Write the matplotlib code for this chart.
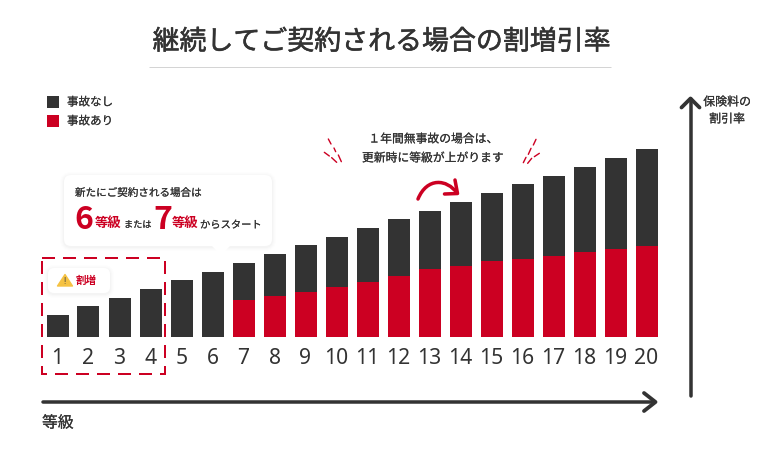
import matplotlib
matplotlib.use("Agg")
import matplotlib.pyplot as plt
import matplotlib.patheffects as pe
from matplotlib.patches import FancyBboxPatch, Polygon, Rectangle, PathPatch
from matplotlib.path import Path

plt.rcParams['font.family'] = ['Noto Sans CJK JP', 'DejaVu Sans']

grades = list(range(1, 21))
total_height = [22, 31, 39.5, 48, 57, 65.5, 74, 83, 92, 100, 109, 118, 126.5, 135, 144, 153, 161, 170, 179, 188]
accident_height = [0, 0, 0, 0, 0, 0, 37, 41, 45.5, 50, 55, 61.5, 68, 71.5, 76, 78.5, 81.5, 85, 88, 91]
no_accident_height = [t - a for t, a in zip(total_height, accident_height)]

legend_labels = ["事故なし", "事故あり"]
title = "継続してご契約される場合の割増引率"

DARK = "#333333"
RED = "#CC0022"
W, H = 760, 458

fig = plt.figure(figsize=(W / 100, H / 100), dpi=100, facecolor="white")

# chart axes: one x unit = 31 px, one y unit = 1 px, baseline at y = 337 px
ax = fig.add_axes([0, 0, 1, 1], zorder=2)
ax.set_xlim(1 - 57.5 / 31, 1 + (W - 57.5) / 31)
ax.set_ylim(-(H - 337), 337)
ax.axis("off")
ax.patch.set_alpha(0)
ax.bar(grades, accident_height, width=22 / 31, color=RED, zorder=3)
ax.bar(grades, no_accident_height, width=22 / 31, bottom=accident_height, color=DARK, zorder=3)
for g in grades:
    ax.text(g, -21.5, str(g), ha="center", va="center", fontsize=15.2, color=DARK,
            family="Noto Sans", zorder=4)

# pixel overlay for annotations
ov = fig.add_axes([0, 0, 1, 1], zorder=3)
ov.set_xlim(0, W)
ov.set_ylim(H, 0)
ov.axis("off")
ov.patch.set_alpha(0)


def px(v):
    return v * 0.72


def label(x, y, s, size, color=DARK, ha="left", bold=False, stroke=0.12, **kw):
    t = ov.text(x, y, s, ha=ha, va="center", fontsize=size, color=color,
                weight="bold" if bold else "normal", zorder=5, **kw)
    if stroke:
        t.set_path_effects([pe.withStroke(linewidth=stroke, foreground=color)])
    return t


def card(x0, y0, x1, y1, r, tail=None):
    for grow, alpha in ((4, .006), (3, .008), (2, .011), (1, .014)):
        ov.add_patch(FancyBboxPatch((x0 - grow, y0 - grow + 1), x1 - x0 + 2 * grow, y1 - y0 + 2 * grow,
                                    boxstyle=f"round,pad=0,rounding_size={r + grow}",
                                    fc="black", ec="none", alpha=alpha, zorder=1))
    ov.add_patch(FancyBboxPatch((x0, y0), x1 - x0, y1 - y0, boxstyle=f"round,pad=0,rounding_size={r}",
                                fc="white", ec="none", zorder=2))
    if tail:
        ov.add_patch(Polygon(tail, closed=True, fc="white", ec="none", zorder=2))


def line(xs, ys, color=DARK, lw=3.5, z=5, cap="round"):
    ov.plot(xs, ys, color=color, lw=px(lw), solid_capstyle=cap, solid_joinstyle="round", zorder=z)


# title
label(381, 42, title, 19.4, ha="center", stroke=0.4)
line([149, 611], [67, 67], color="#d4d4d4", lw=1, cap="butt")

# legend
for y, c, lab in zip((102, 121), (DARK, RED), legend_labels):
    ov.add_patch(Rectangle((47, y - 6), 12, 12, fc=c, ec="none", zorder=4))
    label(67, y, lab, 8.3)

# callout
card(64, 175, 272, 246, 7, tail=[(211, 245), (231, 245), (221, 255)])
label(75, 193, "新たにご契約される場合は", 7.6)
label(74, 220, "6", 23, color=RED, bold=True, stroke=0)
label(94.5, 223, "等級", 9.6, color=RED, bold=True, stroke=0)
label(124, 225, "または", 6.6)
label(153, 220, "7", 23, color=RED, bold=True, stroke=0)
label(171.5, 223, "等級", 9.6, color=RED, bold=True, stroke=0)
label(200, 225, "からスタート", 7.4)

# dashed penalty box
ov.add_patch(Rectangle((42, 258), 123, 116, fc="none", ec=RED, lw=px(2), ls=(0, (6.5, 4)), zorder=5))
card(48, 268, 110, 293, 6)
ov.add_patch(Polygon([(65, 274.5), (72.5, 286), (57.5, 286)], closed=True, fc="#F5C242", ec="#F5C242",
                     lw=1, joinstyle="round", zorder=5))
ov.text(65, 281.5, "!", ha="center", va="center", fontsize=6, color="#444444", weight="bold",
        family="Noto Sans", zorder=6)
label(76, 280.5, "割増", 7.6, color=RED, bold=True, stroke=0)

# axes arrows
line([43, 654], [402, 402])
line([644, 655.5, 644], [393, 402, 411], z=6, lw=3.8)
line([690.5, 690.5], [396, 99])
line([681.5, 690.5, 699.5], [107.5, 98.5, 107.5], z=6, lw=3.8)
label(42, 423, "等級", 11.4)
label(727, 102, "保険料の", 8.6, ha="center")
label(727, 119, "割引率", 8.6, ha="center")

# note
label(433, 139, "１年間無事故の場合は、", 8.5, ha="center")
label(432.5, 158, "更新時に等級が上がります", 8.5, ha="center")

# sparks
sparks = [((85, 57), (93, 72)), ((102, 84), (107, 95)), ((115, 105), (124, 125)),
          ((73, 97), (88, 108)), ((95, 113), (110, 127)),
          ((708, 58), (700, 75)), ((693, 85), (685, 103)), ((678, 112), (670, 128)),
          ((718, 100), (703, 110)), ((695, 115), (683, 130))]
for (a, b), (c, d) in sparks:
    line([300 + a / 3, 300 + c / 3], [120 + b / 3, 120 + d / 3], color=RED, lw=1.4)

# curved arrow
verts = [(418, 199), (427, 177), (447, 179), (457, 193)]
ov.add_patch(PathPatch(Path(verts, [Path.MOVETO, Path.CURVE4, Path.CURVE4, Path.CURVE4]), fc="none", ec=RED,
                       lw=px(3.5), capstyle="round", zorder=5))
line([455, 457.5, 444.5], [180, 193.5, 194], color=RED, lw=3.5)

fig.savefig("out.png", dpi=100, facecolor="white")
